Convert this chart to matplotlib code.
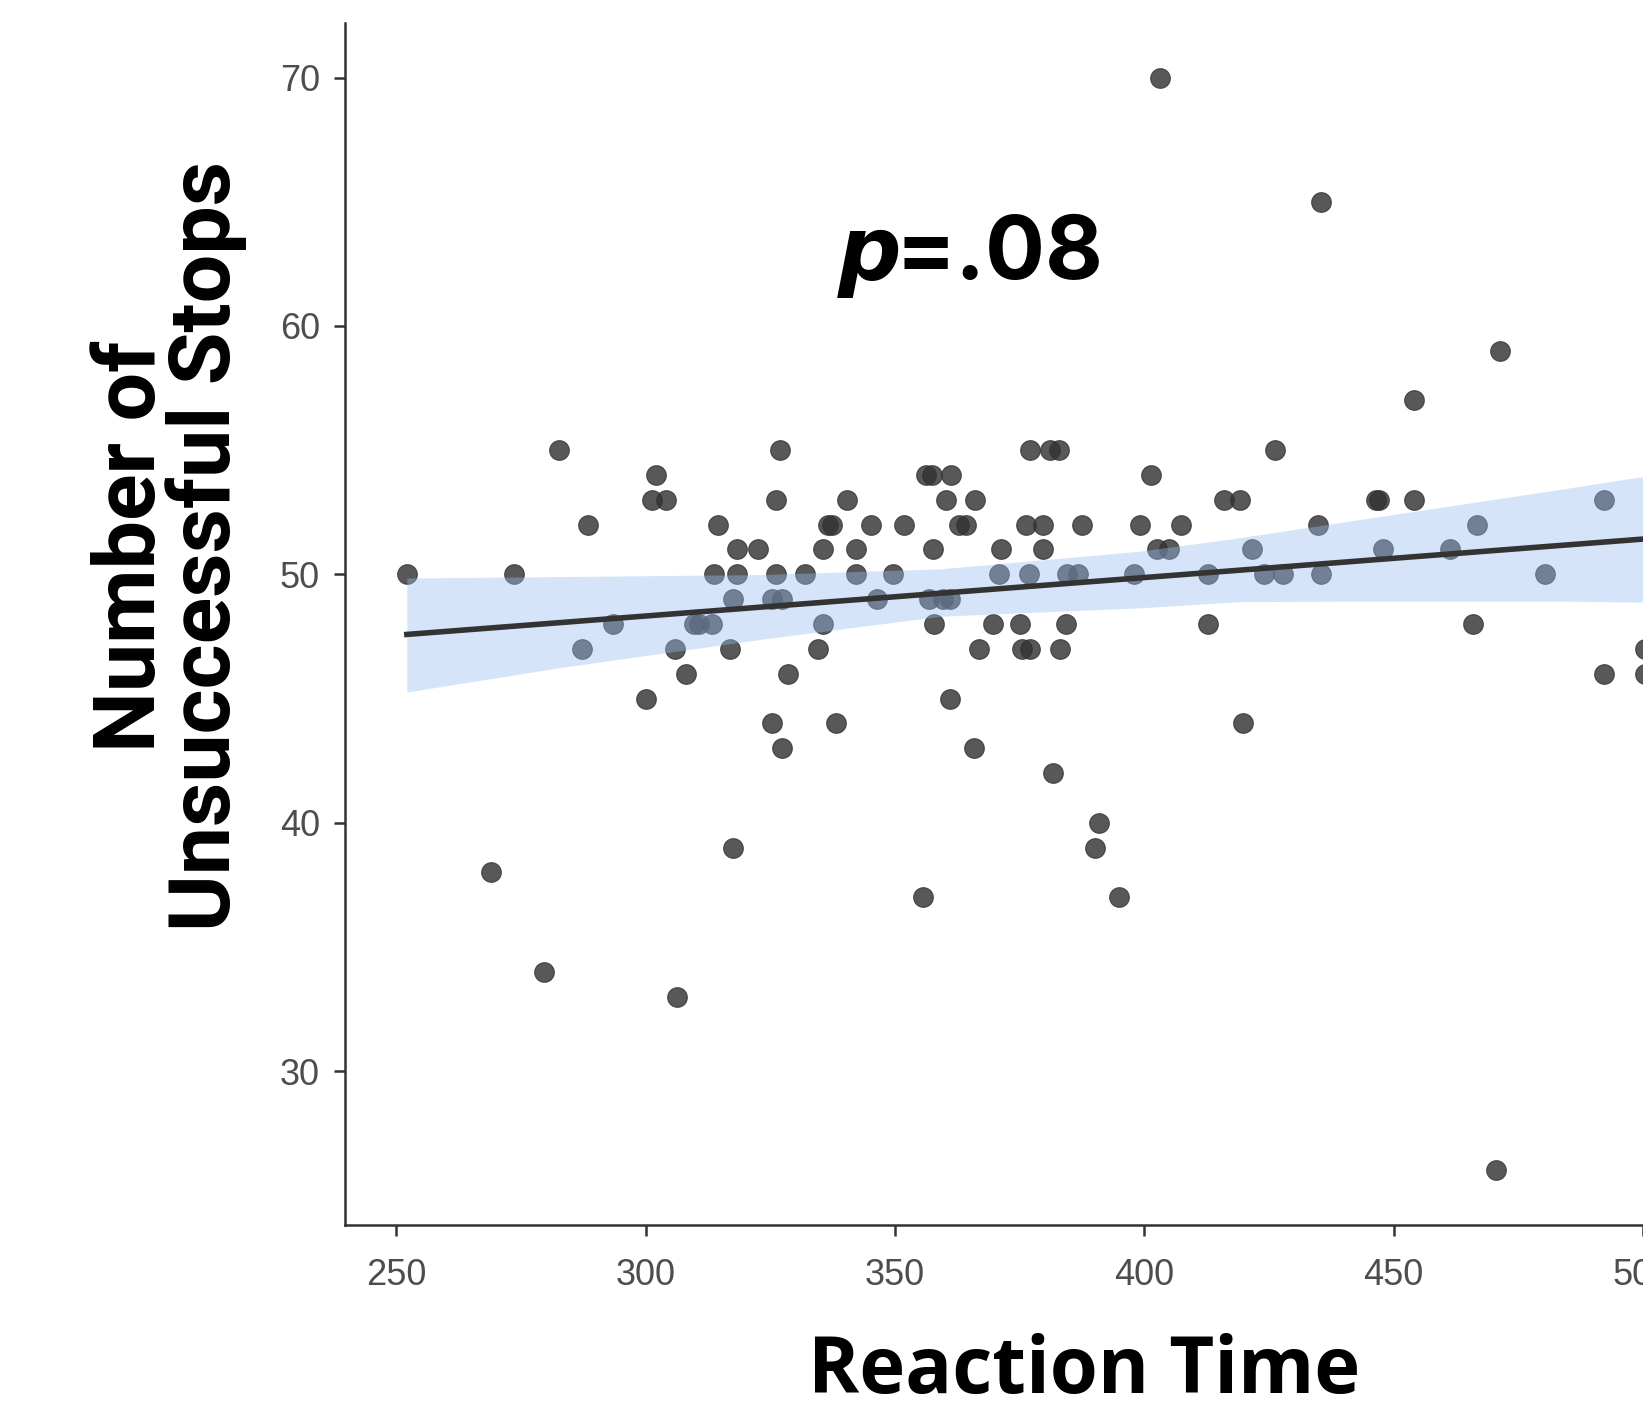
import matplotlib
matplotlib.use("Agg")
import matplotlib.pyplot as plt

# reaction time (x) and number of unsuccessful stops (y), read row by row
rt = [
    403.2,
    435.5,
    471.4,
    454.0,
    282.6, 326.9, 377.1, 381.1, 382.8, 426.3,
    302.1, 356.3, 357.4, 361.3, 401.3,
    301.3, 304.0, 326.1, 340.3, 360.3, 366.0, 416.0, 419.1, 446.4, 447.1, 454.0, 492.2,
    288.4, 314.5, 336.6, 337.4, 345.2, 351.9, 362.8, 364.3, 376.3, 379.6, 387.4, 399.2, 407.4, 434.9, 466.8,
    318.3, 322.5, 335.5, 342.2, 357.6, 371.2, 379.6, 402.5, 405.0, 421.6, 447.9, 461.3,
    252.1, 273.5, 313.7, 318.3, 326.1, 331.9, 342.2, 349.6, 370.8, 376.9, 384.5, 386.6, 397.9, 412.8, 424.0, 427.9, 435.5, 480.3,
    317.6, 325.4, 327.3, 346.4, 356.9, 359.7, 361.1,
    293.5, 309.7, 310.7, 313.2, 335.5, 357.8, 369.7, 375.0, 384.2, 412.8, 466.0,
    287.2, 305.9, 317.0, 334.5, 366.8, 375.4, 377.1, 383.0, 500.5,
    308.0, 328.6, 492.2, 500.5,
    300.0, 361.1,
    325.4, 338.2, 419.7,
    327.3, 365.8,
    381.7,
    391.0,
    317.6, 390.1,
    268.9,
    355.7, 395.0,
    279.6,
    306.3,
    470.6,
]
stops = (
    [70] * 1 + [65] * 1 + [59] * 1 + [57] * 1 + [55] * 6 + [54] * 5 + [53] * 12
    + [52] * 15 + [51] * 12 + [50] * 18 + [49] * 7 + [48] * 11 + [47] * 9
    + [46] * 4 + [45] * 2 + [44] * 3 + [43] * 2 + [42] * 1 + [40] * 1
    + [39] * 2 + [38] * 1 + [37] * 2 + [34] * 1 + [33] * 1 + [26] * 1
)

# fitted line and confidence band
fit_x = [252.1, 500.0]
fit_y = [47.58, 51.42]
band_x = [252.1, 283.0, 323.0, 359.0, 399.0, 419.0, 443.0, 483.0, 500.0]
band_lo = [45.26, 46.25, 47.38, 48.31, 48.65, 48.90, 48.92, 48.92, 48.88]
band_hi = [49.85, 49.91, 49.99, 50.22, 50.93, 51.47, 52.20, 53.41, 53.94]

xticks = [250, 300, 350, 400, 450, 500]
yticks = [30, 40, 50, 60, 70]

W, H = 1643, 1402
fig = plt.figure(figsize=(W / 100, H / 100), dpi=100)

# axes run past the right edge of the figure (picture is cropped at x=500)
x0, x1 = 239.7, 510.0
left = 345 / W
width = (x1 - x0) / (500.0 - x0) * (1 - left)
bottom = (H - 1225) / H
top = (H - 23) / H
ax = fig.add_axes([left, bottom, width, top - bottom])

ax.scatter(rt, stops, s=200, color="#333333", alpha=0.82, linewidths=0.8,
           edgecolors="#333333", zorder=1)
ax.fill_between(band_x, band_lo, band_hi, color="#97bdf2", alpha=0.4,
                linewidth=0, zorder=2)
ax.plot(fit_x, fit_y, color="#333333", linewidth=4, zorder=3)

ax.set_xlim(x0, x1)
ax.set_ylim(23.8, 72.2)
ax.set_xticks(xticks)
ax.set_yticks(yticks)

for side in ["top", "right"]:
    ax.spines[side].set_visible(False)
for side in ["left", "bottom"]:
    ax.spines[side].set_color("#333333")
    ax.spines[side].set_linewidth(1.8)

ax.tick_params(axis="both", length=8, width=1.8, color="#333333",
               labelsize=26, labelcolor="#4d4d4d")
ax.tick_params(axis="y", pad=10)
ax.tick_params(axis="x", pad=16)
for lab in ax.get_xticklabels() + ax.get_yticklabels():
    lab.set_family("Liberation Sans")

fig.text(0.1030, 0.6106, "Number of\nUnsuccessful Stops", rotation=90,
         ha="center", va="center", fontsize=62, fontweight="bold",
         family="Roboto", linespacing=0.9, color="black")
fig.text(0.660, 9 / H, "Reaction Time", ha="center", va="baseline",
         fontsize=56, fontweight="bold", family="Open Sans", color="black")

# p=.08 : italic p followed by the rest on the same baseline
base_y = (H - 279) / H
t1 = fig.text(838 / W, base_y, "p", ha="left", va="baseline",
              fontsize=64, fontweight="bold", fontstyle="oblique",
              family="DejaVu Sans", color="black")
fig.canvas.draw()
bb = t1.get_window_extent(renderer=fig.canvas.get_renderer())
fig.text(bb.x1 / W - 0.004, base_y, "=.08", ha="left", va="baseline",
         fontsize=64, fontweight="bold", family="Inter", color="black")

fig.savefig("out.png", dpi=100)
